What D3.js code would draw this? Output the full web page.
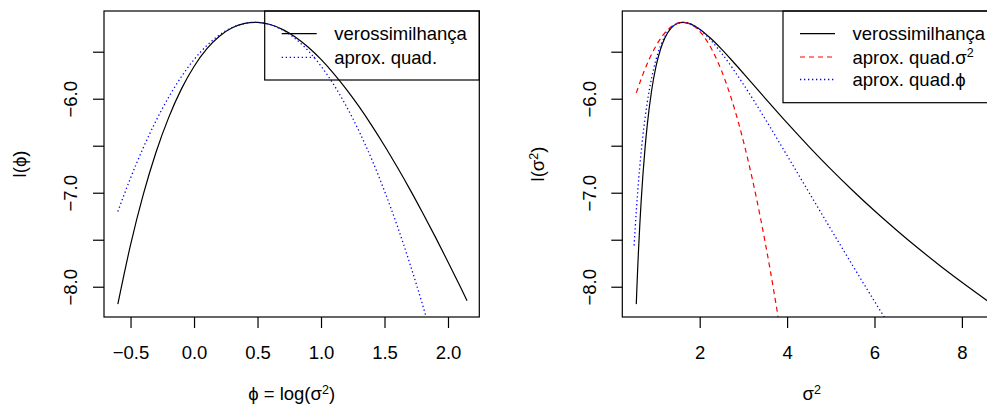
<!DOCTYPE html>
<html><head><meta charset="utf-8">
<script src="https://cdn.jsdelivr.net/npm/d3@7/dist/d3.min.js"></script>
<style>
body{margin:0;background:#fff}
svg text{font-family:"Liberation Sans",Arial,Helvetica,sans-serif;fill:#000}
</style></head><body>
<svg id="c" width="987" height="406"></svg>
<script>
// ---------- data ----------
// left panel: phi = log(sigma^2)
const phiGrid = [-0.6,-0.5,-0.4,-0.3,-0.2,-0.1,0,0.1,0.2,0.3,0.4,0.48,0.5,0.6,0.7,0.8,0.9,1.0,1.1,1.2,1.3,1.4,1.5,1.6,1.7,1.8,1.9,2.0,2.1,2.15];
const llPhi = [-8.185,-7.555,-7.021,-6.572,-6.201,-5.898,-5.657,-5.471,-5.336,-5.246,-5.198,-5.187,-5.188,-5.211,-5.265,-5.346,-5.453,-5.582,-5.732,-5.900,-6.085,-6.286,-6.500,-6.727,-6.964,-7.213,-7.470,-7.736,-8.009,-8.148];
const phiQuadGrid = [-0.6,-0.5,-0.4,-0.3,-0.2,-0.1,0,0.1,0.2,0.3,0.4,0.48,0.5,0.6,0.7,0.8,0.9,1.0,1.1,1.2,1.3,1.4,1.5,1.6,1.7,1.8,1.9];
const quadPhi = [-7.199,-6.844,-6.523,-6.237,-5.985,-5.767,-5.584,-5.436,-5.322,-5.243,-5.198,-5.187,-5.188,-5.212,-5.271,-5.364,-5.491,-5.653,-5.850,-6.081,-6.347,-6.647,-6.982,-7.351,-7.755,-8.193,-8.665];

// right panel: sigma^2
const sig2Grid = [0.549,0.56,0.58,0.6,0.63,0.66,0.7,0.75,0.8,0.9,1.0,1.1,1.2,1.35,1.5,1.616,1.8,2.0,2.25,2.5,2.75,3.0,3.5,4.0,4.5,5.0,5.5,6.0,6.5,7.0,7.5,8.0,8.58];
const llSig2 = [-8.185,-8.045,-7.818,-7.613,-7.337,-7.095,-6.815,-6.523,-6.281,-5.913,-5.657,-5.479,-5.356,-5.246,-5.197,-5.187,-5.206,-5.260,-5.357,-5.472,-5.599,-5.730,-5.996,-6.258,-6.509,-6.749,-6.976,-7.192,-7.396,-7.591,-7.776,-7.952,-8.148];
const sig2RedGrid = [0.55,0.7,0.85,1.0,1.15,1.3,1.45,1.616,1.8,2.0,2.2,2.4,2.6,2.8,3.0,3.2,3.4,3.6,3.8,4.0];
const quadSig2 = [-5.938,-5.741,-5.575,-5.438,-5.330,-5.253,-5.205,-5.187,-5.209,-5.284,-5.412,-5.593,-5.827,-6.113,-6.452,-6.845,-7.290,-7.787,-8.338,-8.942];
const sig2BlueGrid = [0.5,0.55,0.6,0.7,0.8,0.9,1.0,1.2,1.4,1.616,1.8,2.0,2.5,3.0,3.5,4.0,4.5,5.0,5.5,6.0,6.5];
const quadPhiOnSig2 = [-7.561,-7.191,-6.880,-6.395,-6.040,-5.778,-5.584,-5.340,-5.223,-5.187,-5.207,-5.265,-5.515,-5.847,-6.217,-6.604,-6.996,-7.387,-7.774,-8.155,-8.529];

// ticks
const xTicksLeft = [-0.5,0,0.5,1,1.5,2];
const xTicksRight = [2,4,6,8];
const yTicks = [-8,-7.5,-7,-6.5,-6,-5.5];
const yTickLabels = [-8,-7,-6];

// ---------- drawing ----------
const svg = d3.select('#c');
const FS = 18.5;
const pTop = 11, pBottom = 317;
const yDomain = [-8.322, -5.067];
const minus = s => s.replace(/-/g, '\u2212');
const PHI = '\u03d5';

function supText(sel, parts){
  parts.forEach(([t, sup], i) => {
    const ts = sel.append('tspan').text(t);
    if (sup) { ts.attr('font-size', 12.5).attr('dy', -6.5); }
    else if (i > 0 && parts[i-1][1]) { ts.attr('dy', 6.5); }
  });
}

function panel(o){
  const g = svg.append('g');
  const x = d3.scaleLinear().domain(o.xDomain).range([o.left, o.right]);
  const y = d3.scaleLinear().domain(yDomain).range([pBottom, pTop]);
  const cid = 'clip' + o.id;
  svg.append('clipPath').attr('id', cid).append('rect')
    .attr('x', o.left).attr('y', pTop).attr('width', o.right - o.left).attr('height', pBottom - pTop);

  const line = d3.line().x(d => x(d[0])).y(d => y(d[1])).curve(d3.curveMonotoneX);
  o.series.forEach(s => {
    g.append('path').datum(d3.zip(s.x, s.y))
      .attr('clip-path', `url(#${cid})`)
      .attr('fill', 'none').attr('stroke', s.color).attr('stroke-width', s.w || 1.2)
      .attr('stroke-dasharray', s.dash || null)
      .attr('d', line);
  });

  g.append('rect').attr('x', o.left).attr('y', pTop).attr('width', o.right - o.left).attr('height', pBottom - pTop)
    .attr('fill', 'none').attr('stroke', '#000').attr('stroke-width', 1.2);

  const ax = g.append('g').attr('transform', `translate(0,${pBottom})`)
    .call(d3.axisBottom(x).tickValues(o.xTicks).tickSize(11).tickPadding(18).tickFormat(o.xFmt));
  ax.select('.domain').remove();
  ax.attr('font-family', null).attr('font-size', null);
  ax.selectAll('line').attr('stroke', '#000').attr('stroke-width', 1.2);
  ax.selectAll('text').attr('font-size', FS).attr('fill', '#000');

  const ay = g.append('g').attr('transform', `translate(${o.left},0)`)
    .call(d3.axisLeft(y).tickValues(yTicks).tickSize(11)
      .tickFormat(d => yTickLabels.includes(d) ? minus(d3.format('.1f')(d)) : ''));
  ay.select('.domain').remove();
  ay.attr('font-family', null).attr('font-size', null);
  ay.selectAll('line').attr('stroke', '#000').attr('stroke-width', 1.2);
  ay.selectAll('text').attr('font-size', FS).attr('fill', '#000')
    .attr('x', null).attr('dy', null).attr('text-anchor', 'middle')
    .attr('transform', 'translate(-26.7,0) rotate(-90)');

  const xt = g.append('text').attr('x', (o.left + o.right) / 2).attr('y', 400)
    .attr('text-anchor', 'middle').attr('font-size', FS);
  supText(xt, o.xTitle);
  const yt = g.append('text').attr('transform', `translate(${o.left - 78},164) rotate(-90)`)
    .attr('text-anchor', 'middle').attr('font-size', FS);
  supText(yt, o.yTitle);

  const L = o.legend;
  g.append('rect').attr('x', L.x).attr('y', pTop).attr('width', o.right - L.x).attr('height', L.bottom - pTop)
    .attr('fill', 'none').attr('stroke', '#000').attr('stroke-width', 1.2);
  L.items.forEach((it, i) => {
    const yy = L.rows[i];
    g.append('line').attr('x1', L.x + 17).attr('x2', L.x + 52).attr('y1', yy).attr('y2', yy)
      .attr('stroke', it.color).attr('stroke-width', it.w || 1.2).attr('stroke-dasharray', it.dash || null);
    const t = g.append('text').attr('x', L.x + 69.5).attr('y', yy + 6.5).attr('font-size', FS);
    supText(t, it.label);
  });
}

const BLUE = '#0000ff';
const DOT = '1.3,2.7';

panel({
  id: 'L', left: 104, right: 479.3, xDomain: [-0.709, 2.2465],
  xTicks: xTicksLeft, xFmt: d => minus(d3.format('.1f')(d)),
  series: [
    {x: phiGrid, y: llPhi, color: '#000'},
    {x: phiQuadGrid, y: quadPhi, color: BLUE, dash: DOT, w: 1.3}
  ],
  xTitle: [[PHI + ' = log(\u03c3', false], ['2', true], [')', false]],
  yTitle: [['l(' + PHI + ')', false]],
  legend: {x: 264.7, bottom: 80, rows: [33.7, 57.3], items: [
    {label: [['verossimilhan\u00e7a', false]], color: '#000'},
    {label: [['aprox. quad.', false]], color: BLUE, dash: DOT, w: 1.3}
  ]}
});

panel({
  id: 'R', left: 622.3, right: 1001, xDomain: [0.229, 8.895],
  xTicks: xTicksRight, xFmt: d => String(d),
  series: [
    {x: sig2Grid, y: llSig2, color: '#000'},
    {x: sig2RedGrid, y: quadSig2, color: '#ff0000', dash: '5,4'},
    {x: sig2BlueGrid, y: quadPhiOnSig2, color: BLUE, dash: DOT, w: 1.3}
  ],
  xTitle: [['\u03c3', false], ['2', true]],
  yTitle: [['l(\u03c3', false], ['2', true], [')', false]],
  legend: {x: 783, bottom: 102.7, rows: [33.7, 57, 79.5], items: [
    {label: [['verossimilhan\u00e7a', false]], color: '#000'},
    {label: [['aprox. quad.\u03c3', false], ['2', true]], color: '#ff0000', dash: '5,4'},
    {label: [['aprox. quad.' + PHI, false]], color: BLUE, dash: DOT, w: 1.3}
  ]}
});
</script>
</body></html>
